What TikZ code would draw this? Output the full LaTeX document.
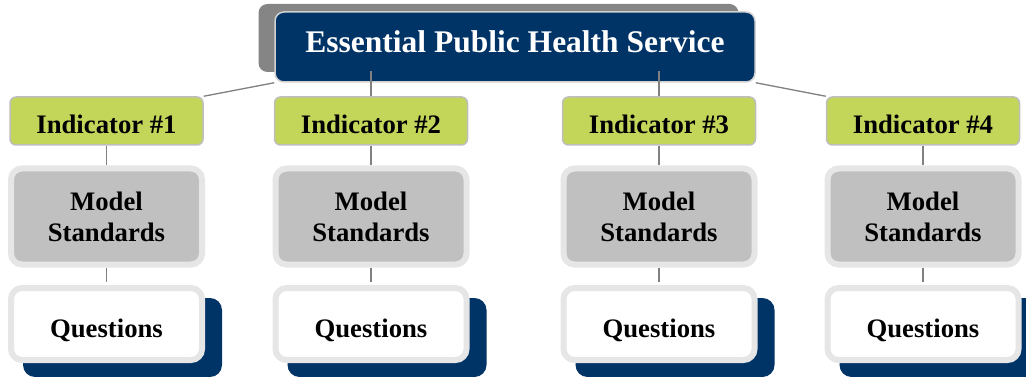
\documentclass[tikz,border=0pt]{standalone}
\usepackage{fontspec}
\setmainfont{Liberation Serif}
\definecolor{navy}{RGB}{0,51,102}
\definecolor{lime}{RGB}{196,214,90}
\definecolor{modelgray}{RGB}{192,192,192}
\definecolor{rimgray}{RGB}{230,230,230}
\definecolor{shadowgray}{RGB}{133,133,133}
\definecolor{linegray}{RGB}{128,128,128}
\definecolor{indborder}{RGB}{190,190,190}
\tikzset{
  titlebox/.style={draw=rimgray!80!gray, line width=1.5pt, fill=navy, rounded corners=9pt,
    minimum width=480pt, minimum height=70pt, inner sep=0pt, text=white,
    text height=10.8pt, text depth=0pt,
    font=\fontsize{31.5}{34}\selectfont\bfseries},
  titleshadow/.style={fill=shadowgray, rounded corners=9pt, minimum width=480pt, minimum height=68pt, inner sep=0pt},
  indbox/.style={draw=indborder, line width=1.5pt, fill=lime, rounded corners=6pt,
    minimum width=193pt, minimum height=48pt, inner sep=0pt,
    text height=25.6pt, text depth=0pt,
    font=\fontsize{26.7}{31}\selectfont\bfseries},
  modelbox/.style={draw=rimgray, line width=6pt, fill=modelgray, rounded corners=11pt,
    minimum width=191pt, minimum height=96pt, inner sep=0pt, align=center,
    font=\fontsize{26.7}{31}\selectfont\bfseries},
  qbox/.style={draw=rimgray, line width=6pt, fill=white, rounded corners=11pt,
    minimum width=191pt, minimum height=72pt, inner sep=0pt,
    text height=26.6pt, text depth=0pt,
    font=\fontsize{26.7}{31}\selectfont\bfseries},
  qshadow/.style={fill=navy, rounded corners=12pt, minimum width=199pt, minimum height=79pt, inner sep=0pt},
  conn/.style={draw=linegray, line width=1.3pt}
}
\begin{document}
\begin{tikzpicture}[x=1pt,y=-1pt]
\useasboundingbox (0,0) rectangle (1026,377);
% title
\node[titleshadow] (tshadow) at (498.5,38) {};
\node[titlebox] (title) at (515,47) {Essential Public Health Service};
% columns
\foreach \i/\cx in {1/106.5, 2/371, 3/659, 4/923} {
  \node[qshadow] (qs\i) at (\cx+16,337.5) {};
  \node[qbox] (q\i) at (\cx,324) {Questions};
  \node[modelbox] (m\i) at (\cx,216.5) {Model\\Standards};
  \node[indbox] (ind\i) at (\cx,121) {Indicator \#\i};
  \draw[conn] (ind\i.south) -- (m\i.north);
  \draw[conn] (m\i.south) -- ([yshift=3pt]q\i.north);
}
% top connectors
\draw[conn] (title.south west) -- (ind1.north east);
\draw[conn] (title.south east) -- (ind4.north west);
\draw[conn] (ind2.north) -- ([yshift=25pt]ind2.north);
\draw[conn] (ind3.north) -- ([yshift=25pt]ind3.north);
\end{tikzpicture}
\end{document}
